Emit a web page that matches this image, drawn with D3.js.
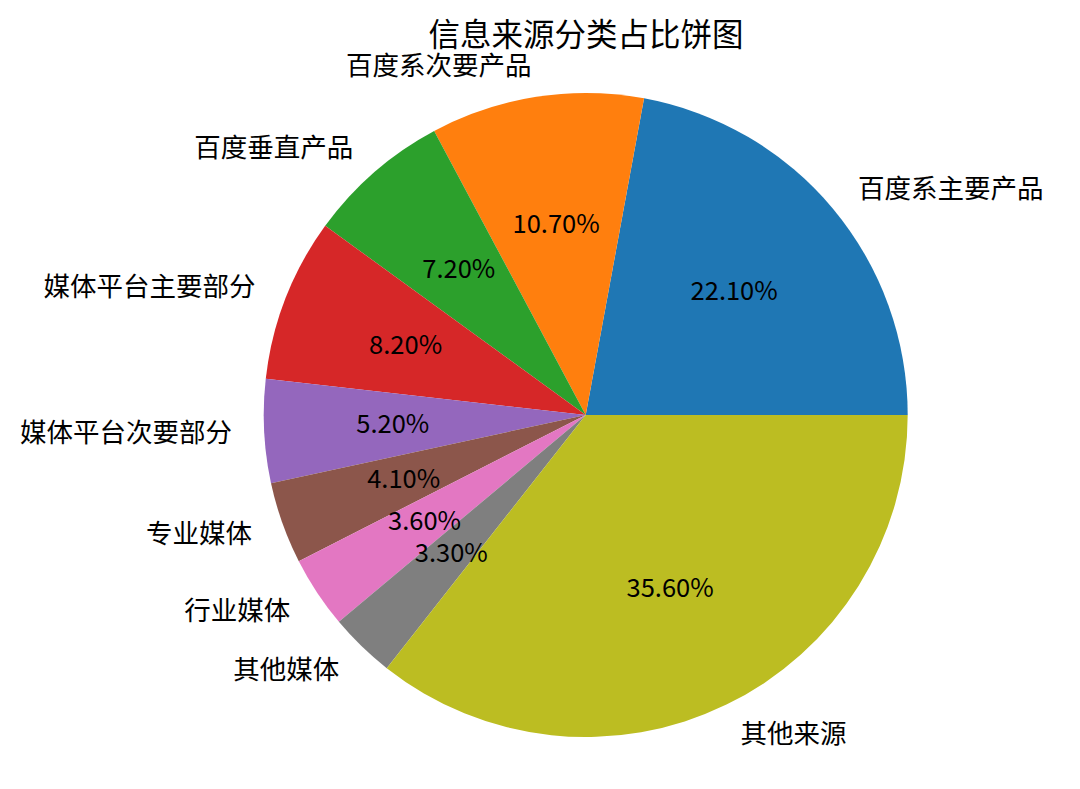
<!DOCTYPE html>
<html>
<head>
<meta charset="utf-8">
<script src="https://cdn.jsdelivr.net/npm/d3@7"></script>
<style>
  body { margin: 0; background: #fff; }
  svg text { font-family: "Noto Sans CJK SC", "Noto Sans", sans-serif; fill: #000; }
</style>
</head>
<body>
<svg width="1080" height="789"></svg>
<script>
'use strict'

const categories = ['百度系主要产品', '百度系次要产品', '百度垂直产品', '媒体平台主要部分',
  '媒体平台次要部分', '专业媒体', '行业媒体', '其他媒体', '其他来源']
const shares = [22.1, 10.7, 7.2, 8.2, 5.2, 4.1, 3.6, 3.3, 35.6]
const colors = ['#1f77b4', '#ff7f0e', '#2ca02c', '#d62728', '#9467bd',
  '#8c564b', '#e377c2', '#7f7f7f', '#bcbd22']
const title = '信息来源分类占比饼图'

const svg = d3.select('body svg')
const cx = 585.7
const cy = 415
const radius = 322

const data = categories.map((name, i) => ({ name, value: shares[i], color: colors[i] }))

// matplotlib style: start at 3 o'clock, go counterclockwise
const pie = d3.pie()
  .sort(null)
  .value((d) => d.value)
  .startAngle(Math.PI / 2)
  .endAngle(Math.PI / 2 - 2 * Math.PI)

const arc = d3.arc().innerRadius(0).outerRadius(radius)

const g = svg.append('g').attr('transform', `translate(${cx}, ${cy})`)
const arcs = pie(data)

g.selectAll('path.slice')
  .data(arcs)
  .enter()
  .append('path').classed('slice', true)
  .attr('d', arc)
  .attr('fill', (d) => d.data.color)

const midAngle = (d) => (d.startAngle + d.endAngle) / 2
const pos = (d, k) => {
  const a = midAngle(d)
  return [Math.sin(a) * radius * k, -Math.cos(a) * radius * k]
}

g.selectAll('text.label')
  .data(arcs)
  .enter()
  .append('text').classed('label', true)
  .attr('x', (d) => pos(d, 1.1)[0])
  .attr('y', (d) => pos(d, 1.1)[1] - 2)
  .attr('text-anchor', (d) => pos(d, 1.1)[0] > 0 ? 'start' : 'end')
  .attr('dominant-baseline', 'central')
  .style('font-size', '26.5px')
  .text((d) => d.data.name)

g.selectAll('text.pct')
  .data(arcs)
  .enter()
  .append('text').classed('pct', true)
  .attr('x', (d) => pos(d, 0.6)[0])
  .attr('y', (d) => pos(d, 0.6)[1] - 3)
  .attr('text-anchor', 'middle')
  .attr('dominant-baseline', 'central')
  .style('font-size', '25.5px')
  .text((d) => d.data.value.toFixed(2) + '%')

svg.append('text')
  .attr('x', 586)
  .attr('y', 32)
  .attr('text-anchor', 'middle')
  .attr('dominant-baseline', 'central')
  .style('font-size', '31.5px')
  .text(title)
</script>
</body>
</html>
